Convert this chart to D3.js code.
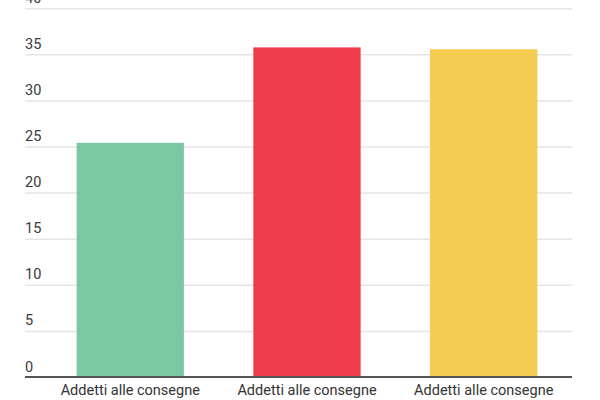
<!DOCTYPE html>
<html><head><meta charset="utf-8">
<script src="https://cdn.jsdelivr.net/npm/d3@7"></script>
<style>body{margin:0;background:#fff}svg{display:block}</style>
</head><body>
<svg id="c" width="600" height="400"></svg>
<script>
const categories = ["Addetti alle consegne", "Addetti alle consegne ", "Addetti alle consegne  "];
const values = [25.4, 35.75, 35.55];
const colors = ["#7BC8A4", "#F03C4A", "#F5CC52"];
const yTicks = [0, 5, 10, 15, 20, 25, 30, 35, 40];

const svg = d3.select("#c");
const x = d3.scaleBand().domain(categories).range([42, 572]).paddingInner(0.393).paddingOuter(0.196);
const y = d3.scaleLinear().domain([0, 40]).range([377, 8.2]);

// gridlines + labels
const g = svg.append("g").attr("transform", "translate(25,0)")
  .call(d3.axisRight(y).tickValues(yTicks).tickSize(547).tickFormat(d3.format("d")));
g.select(".domain").remove();
g.selectAll(".tick line").attr("stroke", "#e5e5e5").attr("stroke-width", 1.5);
g.selectAll(".tick text").attr("x", 0).attr("dy", -6).attr("text-anchor", "start")
  .attr("font-family", "Roboto, sans-serif").attr("font-size", 14.5).attr("fill", "#3a3a3a");

svg.selectAll("rect.bar").data(values).join("rect").attr("class", "bar")
  .attr("x", (d, i) => x(categories[i])).attr("width", x.bandwidth())
  .attr("y", d => y(d)).attr("height", d => y(0) - y(d))
  .attr("fill", (d, i) => colors[i]);

// baseline
svg.append("line").attr("x1", 25).attr("x2", 572).attr("y1", y(0)).attr("y2", y(0))
  .attr("stroke", "#555").attr("stroke-width", 2);

const xa = svg.append("g").attr("transform", `translate(0,${y(0)})`)
  .call(d3.axisBottom(x).tickSize(0));
xa.select(".domain").remove();
xa.selectAll(".tick text").attr("dy", 0).attr("y", 18)
  .attr("font-family", "Roboto, sans-serif").attr("font-size", 14.5).attr("fill", "#333");
</script>
</body></html>
